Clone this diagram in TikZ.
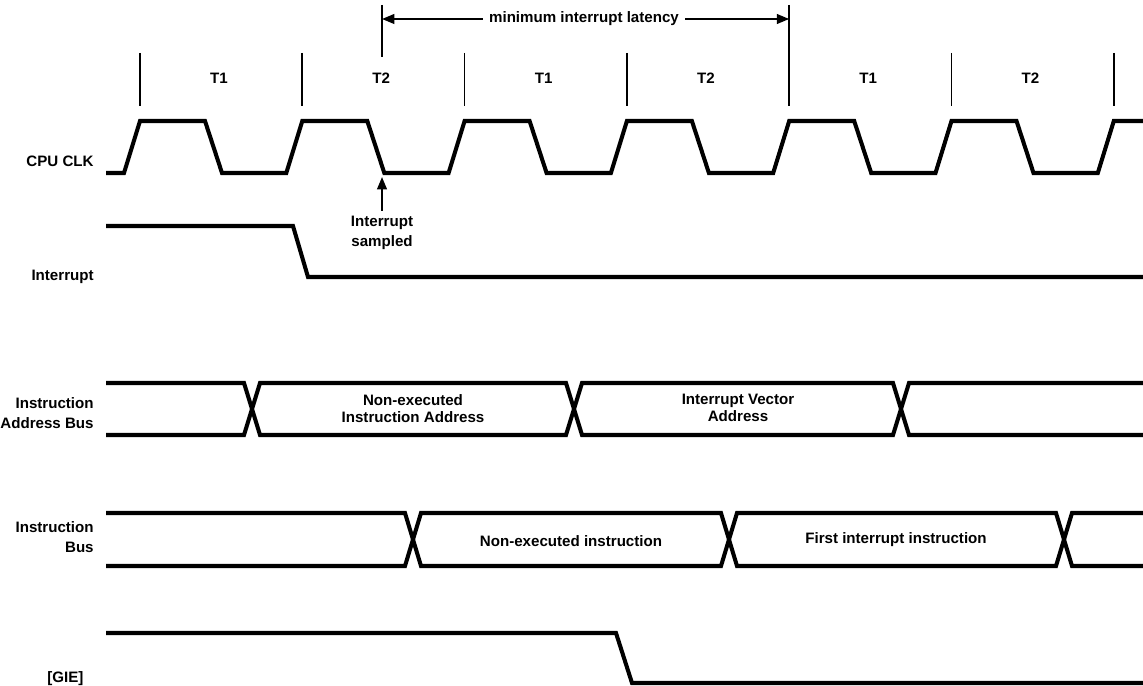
\documentclass[tikz,border=0pt]{standalone}
\usepackage{fontspec}
\setmainfont{Liberation Sans}
\usetikzlibrary{arrows.meta}

\begin{document}
\begin{tikzpicture}[x=0.02cm,y=-0.02cm,
  every node/.style={font=\bfseries\fontsize{8.6}{11.4}\selectfont,inner sep=0pt},
  w/.style={line width=2.3pt,line join=miter},
  tk/.style={line width=1pt},
  a/.style={-{Triangle[length=7pt,width=5.5pt]},line width=1.1pt},
  lb/.style={anchor=east,align=right},
  bt/.style={align=center,font=\bfseries\fontsize{8.6}{9.6}\selectfont}]
  \useasboundingbox (0,0) rectangle (1143,686);
  % signal names
  \node[lb] (clk)  at (94,161) {CPU CLK};
  \node[lb] (intr) at (94,277) {Interrupt};
  \node[lb] (iab)  at (94,413) {Instruction\\Address Bus};
  \node[lb] (ib)   at (94,537) {Instruction\\Bus};
  \node[anchor=west] (gie) at (47,679) {[GIE]};
  % T states
  \foreach \k in {0,1,2,3,5,6} \draw[tk] ({140+162.3*\k},53) -- ({140+162.3*\k},106);
  \foreach \k/\t in {0/T1,1/T2,2/T1,3/T2,4/T1,5/T2} \node (t\k) at ({219+162.3*\k},78) {\t};
  \draw[tk] (382,5) -- (382,57);
  \draw[tk] (789.2,5) -- (789.2,106);
  \coordinate (latL) at (382,19);
  \coordinate (latR) at (789.2,19);
  \node[inner sep=3.5pt] (lat) at (584,19) {minimum interrupt latency};
  \draw[a] (lat.west) -- (latL);
  \draw[a] (lat.east) -- (latR);
  % clock
  \draw[w] (106,173) -- (124,173)
    \foreach \k in {0,...,5}{ -- ++(16,-52) -- ++(65,0) -- ++(17,52) -- ++(64.3,0) }
    -- ++(16,-52) -- (1143,121);
  \coordinate (sampT) at (382,177);
  \node[align=center,inner sep=3pt] (samp) at (382,233) {Interrupt\\sampled};
  \draw[a] (samp.north) -- (sampT);
  % interrupt
  \draw[w] (106,226) -- (293,226) -- (308,277) -- (1143,277);
  % instruction address bus
  \draw[w] (106,383) -- (244,383) -- (260,435) -- (566,435) -- (582,383) -- (893,383) -- (909,435) -- (1143,435);
  \draw[w] (106,435) -- (244,435) -- (260,383) -- (566,383) -- (582,435) -- (893,435) -- (909,383) -- (1143,383);
  \node[bt] (nea) at (413,409) {Non-executed\\Instruction Address};
  \node[bt] (iva) at (738,408) {Interrupt Vector\\Address};
  % instruction bus
  \draw[w] (106,513) -- (405,513) -- (421,566) -- (721,566) -- (737,513) -- (1056,513) -- (1072,566) -- (1143,566);
  \draw[w] (106,566) -- (405,566) -- (421,513) -- (721,513) -- (737,566) -- (1056,566) -- (1072,513) -- (1143,513);
  \node[bt] (nei) at (571,541) {Non-executed instruction};
  \node[bt] (fii) at (896,540) {First interrupt instruction};
  % GIE
  \draw[w] (106,633) -- (616,633) -- (632,683) -- (1143,683);
\end{tikzpicture}
\end{document}
